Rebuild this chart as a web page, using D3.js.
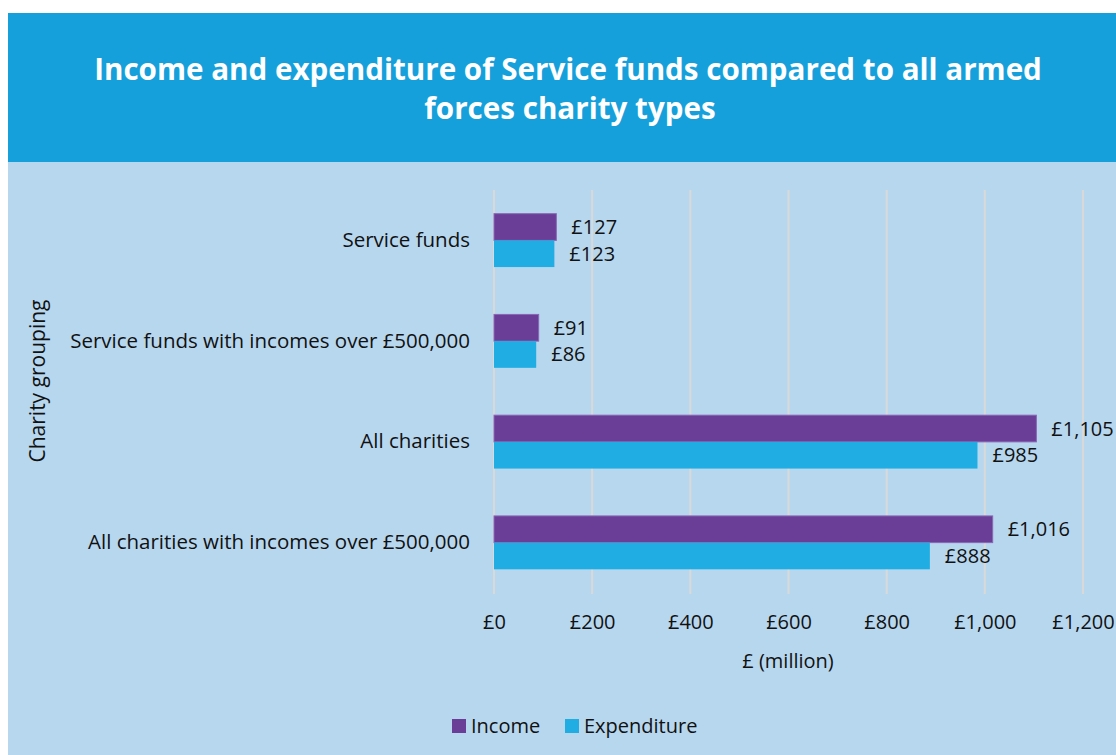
<!DOCTYPE html>
<html>
<head>
<meta charset="utf-8">
<script src="https://cdn.jsdelivr.net/npm/d3@7"></script>
<style>
  body { margin: 0; background: #fff; }
  svg text { font-family: "Open Sans", sans-serif; fill: #111; }
</style>
</head>
<body>
<script>
// chart data
const categories = ["Service funds", "Service funds with incomes over £500,000",
  "All charities", "All charities with incomes over £500,000"];
const seriesNames = ["Income", "Expenditure"];
const income = [127, 91, 1105, 1016];
const expenditure = [123, 86, 985, 888];
const xTicks = [0, 200, 400, 600, 800, 1000, 1200];
const colors = ["#6a3d97", "#1fade3"];

const W = 1116, H = 755;

const svg = d3.select("body")
  .append("svg")
  .attr("width", W)
  .attr("height", H);

// header and panel
svg.append("rect").attr("x", 8).attr("y", 13).attr("width", W - 8).attr("height", 149).attr("fill", "#16a0db");
svg.append("rect").attr("x", 8).attr("y", 162).attr("width", W - 8).attr("height", H - 162).attr("fill", "#b7d7ef");

const title = svg.append("text")
  .attr("text-anchor", "middle")
  .style("font-family", "Open Sans, sans-serif")
  .style("font-weight", "700")
  .style("font-size", "29.6px")
  .style("fill", "#fff");
title.append("tspan").attr("x", 568).attr("y", 80).text("Income and expenditure of Service funds compared to all armed");
title.append("tspan").attr("x", 570).attr("y", 119).text("forces charity types");

// scales
const x = d3.scaleLinear().domain([0, 1200]).range([494, 1083]);
const y0 = d3.scaleBand().domain(categories).range([190, 593])
  .paddingInner(0.47).paddingOuter(0.235);
const y1 = d3.scaleBand().domain(seriesNames).range([0, y0.bandwidth()]);

// gridlines
svg.append("g")
  .selectAll("line")
  .data(xTicks)
  .join("line")
  .attr("x1", d => x(d)).attr("x2", d => x(d))
  .attr("y1", 190).attr("y2", 594)
  .attr("stroke", "#d9d9d9")
  .attr("stroke-width", 2);

// x axis labels
const xAxis = d3.axisBottom(x).tickValues(xTicks).tickSize(0).tickPadding(22)
  .tickFormat(d => "£" + d3.format(",")(d));
svg.append("g")
  .attr("transform", "translate(0,593)")
  .call(xAxis)
  .call(g => g.select(".domain").remove())
  .call(g => g.selectAll("text").style("font-family", "Open Sans, sans-serif").style("font-size", "20px").attr("fill", "#111"));

// y axis labels
const yAxis = d3.axisLeft(y0).tickSize(0).tickPadding(24);
svg.append("g")
  .attr("transform", "translate(494,0)")
  .call(yAxis)
  .call(g => g.select(".domain").remove())
  .call(g => g.selectAll("text").style("font-family", "Open Sans, sans-serif").style("font-size", "20.5px").attr("fill", "#111"));

// bars
const rows = categories.map((c, i) => ({
  cat: c,
  vals: [{ s: "Income", v: income[i] }, { s: "Expenditure", v: expenditure[i] }]
}));

const groups = svg.append("g")
  .selectAll("g")
  .data(rows)
  .join("g")
  .attr("transform", d => `translate(0,${y0(d.cat)})`);

groups.selectAll("rect")
  .data(d => d.vals)
  .join("rect")
  .attr("x", x(0))
  .attr("y", d => y1(d.s))
  .attr("width", d => x(d.v) - x(0))
  .attr("height", y1.bandwidth())
  .attr("fill", (d, i) => colors[i])
  .attr("stroke", (d, i) => i === 0 ? "#8a66b5" : "none")
  .attr("stroke-width", 1);

groups.selectAll("text")
  .data(d => d.vals)
  .join("text")
  .attr("x", d => x(d.v) + 15)
  .attr("y", d => y1(d.s) + y1.bandwidth() / 2)
  .attr("dy", "0.35em")
  .style("font-size", "20px")
  .text(d => "£" + d3.format(",")(d.v));

// axis titles
svg.append("text")
  .attr("x", 788).attr("y", 668)
  .attr("text-anchor", "middle")
  .style("font-size", "20px")
  .text("£ (million)");

svg.append("text")
  .attr("transform", "translate(45,381) rotate(-90)")
  .attr("text-anchor", "middle")
  .style("font-size", "21px")
  .text("Charity grouping");

// legend
const legendX = [452, 565];
const legend = svg.append("g")
  .selectAll("g")
  .data(seriesNames)
  .join("g")
  .attr("transform", (d, i) => `translate(${legendX[i]},719)`);
legend.append("rect").attr("width", 14).attr("height", 14).attr("fill", (d, i) => colors[i]);
legend.append("text").attr("x", 19).attr("y", 7).attr("dy", "0.35em")
  .style("font-size", "20px").text(d => d);
</script>
</body>
</html>
